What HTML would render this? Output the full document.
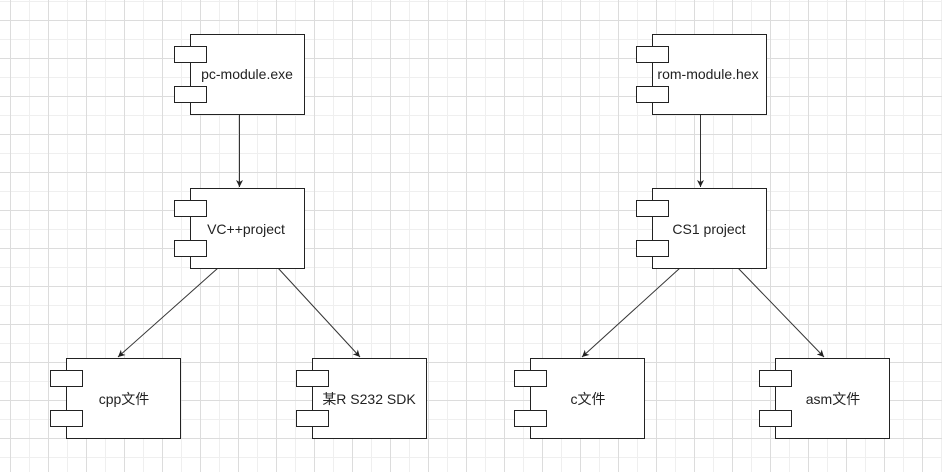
<!DOCTYPE html>
<html><head><meta charset="utf-8"><style>
body{margin:0;width:942px;height:472px;overflow:hidden;background:#fff;
background-image:
linear-gradient(to right,#dcdcdc 1px,transparent 1px),
linear-gradient(to bottom,#dcdcdc 1px,transparent 1px),
linear-gradient(to right,#efefef 1px,transparent 1px),
linear-gradient(to bottom,#efefef 1px,transparent 1px);
background-size:38px 38px,38px 38px,19px 19px,19px 19px;
background-position:10px 20px,10px 20px,10px 1px,10px 1px;}
</style></head><body>
<svg width="942" height="472" style="position:absolute;left:0;top:0" font-family="Liberation Sans, Noto Sans CJK SC, sans-serif" font-size="14">
<defs><marker id="a" markerWidth="8" markerHeight="8" refX="7" refY="4" orient="auto" markerUnits="userSpaceOnUse"><path d="M0,0.5 L7,4 L0,7.5 L2,4 Z" fill="#222"/></marker></defs>
<g stroke="#333" stroke-width="1" fill="none" marker-end="url(#a)">
<line x1="239.5" y1="114" x2="239.5" y2="187"/>
<line x1="700.5" y1="114" x2="700.5" y2="187"/>
<line x1="218" y1="268" x2="118" y2="357"/>
<line x1="278" y1="268" x2="360" y2="357"/>
<line x1="680" y1="268" x2="582" y2="357"/>
<line x1="738" y1="268" x2="824" y2="357"/>
</g>
<g stroke="#222" stroke-width="1" fill="#fff">
<g transform="translate(190,34)"><rect x="0.5" y="0.5" width="114" height="80"/><rect x="-15.5" y="12.5" width="32" height="16"/><rect x="-15.5" y="52.5" width="32" height="16"/></g>
<g transform="translate(190,188)"><rect x="0.5" y="0.5" width="114" height="80"/><rect x="-15.5" y="12.5" width="32" height="16"/><rect x="-15.5" y="52.5" width="32" height="16"/></g>
<g transform="translate(66,358)"><rect x="0.5" y="0.5" width="114" height="80"/><rect x="-15.5" y="12.5" width="32" height="16"/><rect x="-15.5" y="52.5" width="32" height="16"/></g>
<g transform="translate(312,358)"><rect x="0.5" y="0.5" width="114" height="80"/><rect x="-15.5" y="12.5" width="32" height="16"/><rect x="-15.5" y="52.5" width="32" height="16"/></g>
<g transform="translate(652,34)"><rect x="0.5" y="0.5" width="114" height="80"/><rect x="-15.5" y="12.5" width="32" height="16"/><rect x="-15.5" y="52.5" width="32" height="16"/></g>
<g transform="translate(652,188)"><rect x="0.5" y="0.5" width="114" height="80"/><rect x="-15.5" y="12.5" width="32" height="16"/><rect x="-15.5" y="52.5" width="32" height="16"/></g>
<g transform="translate(530,358)"><rect x="0.5" y="0.5" width="114" height="80"/><rect x="-15.5" y="12.5" width="32" height="16"/><rect x="-15.5" y="52.5" width="32" height="16"/></g>
<g transform="translate(775,358)"><rect x="0.5" y="0.5" width="114" height="80"/><rect x="-15.5" y="12.5" width="32" height="16"/><rect x="-15.5" y="52.5" width="32" height="16"/></g>
</g>
<g fill="#222" text-anchor="middle">
<text x="247" y="79">pc-module.exe</text>
<text x="246" y="234">VC++project</text>
<text x="124" y="404">cpp文件</text>
<text x="369" y="404">某R S232 SDK</text>
<text x="708" y="79">rom-module.hex</text>
<text x="709" y="234">CS1 project</text>
<text x="588" y="404">c文件</text>
<text x="833" y="404">asm文件</text>
</g>
</svg>
</body></html>
